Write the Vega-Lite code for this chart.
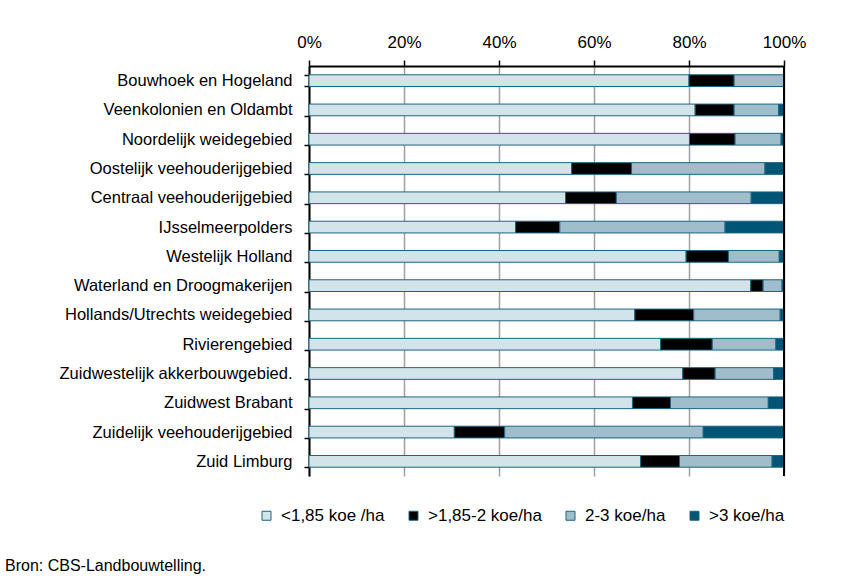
{
  "$schema": "https://vega.github.io/schema/vega-lite/v6.json",
  "autosize": "none",
  "width": 475,
  "height": 410,
  "padding": {"left": 309, "top": 66, "right": 64, "bottom": 103},
  "background": "white",
  "title": {
    "text": "Bron: CBS-Landbouwtelling.",
    "orient": "bottom",
    "anchor": "start",
    "frame": "group",
    "dx": -304,
    "offset": 34,
    "fontSize": 16,
    "font": "Liberation Sans",
    "fontWeight": "normal",
    "color": "black"
  },
  "config": {
    "view": {"stroke": null},
    "font": "Liberation Sans"
  },
  "layer": [
    {
      "data": {
        "values": [
          {"r": "Bouwhoek en Hogeland", "c": "<1,85 koe /ha", "o": 1, "v": 80.0},
          {"r": "Bouwhoek en Hogeland", "c": ">1,85-2 koe/ha", "o": 2, "v": 9.5},
          {"r": "Bouwhoek en Hogeland", "c": "2-3 koe/ha", "o": 3, "v": 10.5},
          {"r": "Veenkolonien en Oldambt", "c": "<1,85 koe /ha", "o": 1, "v": 81.3},
          {"r": "Veenkolonien en Oldambt", "c": ">1,85-2 koe/ha", "o": 2, "v": 8.2},
          {"r": "Veenkolonien en Oldambt", "c": "2-3 koe/ha", "o": 3, "v": 9.4},
          {"r": "Veenkolonien en Oldambt", "c": ">3 koe/ha", "o": 4, "v": 1.1},
          {"r": "Noordelijk weidegebied", "c": "<1,85 koe /ha", "o": 1, "v": 80.1},
          {"r": "Noordelijk weidegebied", "c": ">1,85-2 koe/ha", "o": 2, "v": 9.6},
          {"r": "Noordelijk weidegebied", "c": "2-3 koe/ha", "o": 3, "v": 9.7},
          {"r": "Noordelijk weidegebied", "c": ">3 koe/ha", "o": 4, "v": 0.6},
          {"r": "Oostelijk veehouderijgebied", "c": "<1,85 koe /ha", "o": 1, "v": 55.3},
          {"r": "Oostelijk veehouderijgebied", "c": ">1,85-2 koe/ha", "o": 2, "v": 12.6},
          {"r": "Oostelijk veehouderijgebied", "c": "2-3 koe/ha", "o": 3, "v": 28.1},
          {"r": "Oostelijk veehouderijgebied", "c": ">3 koe/ha", "o": 4, "v": 4.0},
          {"r": "Centraal veehouderijgebied", "c": "<1,85 koe /ha", "o": 1, "v": 54.0},
          {"r": "Centraal veehouderijgebied", "c": ">1,85-2 koe/ha", "o": 2, "v": 10.7},
          {"r": "Centraal veehouderijgebied", "c": "2-3 koe/ha", "o": 3, "v": 28.4},
          {"r": "Centraal veehouderijgebied", "c": ">3 koe/ha", "o": 4, "v": 6.9},
          {"r": "IJsselmeerpolders", "c": "<1,85 koe /ha", "o": 1, "v": 43.5},
          {"r": "IJsselmeerpolders", "c": ">1,85-2 koe/ha", "o": 2, "v": 9.3},
          {"r": "IJsselmeerpolders", "c": "2-3 koe/ha", "o": 3, "v": 34.8},
          {"r": "IJsselmeerpolders", "c": ">3 koe/ha", "o": 4, "v": 12.4},
          {"r": "Westelijk Holland", "c": "<1,85 koe /ha", "o": 1, "v": 79.4},
          {"r": "Westelijk Holland", "c": ">1,85-2 koe/ha", "o": 2, "v": 8.9},
          {"r": "Westelijk Holland", "c": "2-3 koe/ha", "o": 3, "v": 10.7},
          {"r": "Westelijk Holland", "c": ">3 koe/ha", "o": 4, "v": 1.0},
          {"r": "Waterland en Droogmakerijen", "c": "<1,85 koe /ha", "o": 1, "v": 93.0},
          {"r": "Waterland en Droogmakerijen", "c": ">1,85-2 koe/ha", "o": 2, "v": 2.6},
          {"r": "Waterland en Droogmakerijen", "c": "2-3 koe/ha", "o": 3, "v": 4.0},
          {"r": "Waterland en Droogmakerijen", "c": ">3 koe/ha", "o": 4, "v": 0.4},
          {"r": "Hollands/Utrechts weidegebied", "c": "<1,85 koe /ha", "o": 1, "v": 68.6},
          {"r": "Hollands/Utrechts weidegebied", "c": ">1,85-2 koe/ha", "o": 2, "v": 12.4},
          {"r": "Hollands/Utrechts weidegebied", "c": "2-3 koe/ha", "o": 3, "v": 18.2},
          {"r": "Hollands/Utrechts weidegebied", "c": ">3 koe/ha", "o": 4, "v": 0.8},
          {"r": "Rivierengebied", "c": "<1,85 koe /ha", "o": 1, "v": 74.0},
          {"r": "Rivierengebied", "c": ">1,85-2 koe/ha", "o": 2, "v": 10.9},
          {"r": "Rivierengebied", "c": "2-3 koe/ha", "o": 3, "v": 13.4},
          {"r": "Rivierengebied", "c": ">3 koe/ha", "o": 4, "v": 1.7},
          {"r": "Zuidwestelijk akkerbouwgebied.", "c": "<1,85 koe /ha", "o": 1, "v": 78.7},
          {"r": "Zuidwestelijk akkerbouwgebied.", "c": ">1,85-2 koe/ha", "o": 2, "v": 6.8},
          {"r": "Zuidwestelijk akkerbouwgebied.", "c": "2-3 koe/ha", "o": 3, "v": 12.3},
          {"r": "Zuidwestelijk akkerbouwgebied.", "c": ">3 koe/ha", "o": 4, "v": 2.2},
          {"r": "Zuidwest Brabant", "c": "<1,85 koe /ha", "o": 1, "v": 68.1},
          {"r": "Zuidwest Brabant", "c": ">1,85-2 koe/ha", "o": 2, "v": 8.0},
          {"r": "Zuidwest Brabant", "c": "2-3 koe/ha", "o": 3, "v": 20.6},
          {"r": "Zuidwest Brabant", "c": ">3 koe/ha", "o": 4, "v": 3.3},
          {"r": "Zuidelijk veehouderijgebied", "c": "<1,85 koe /ha", "o": 1, "v": 30.6},
          {"r": "Zuidelijk veehouderijgebied", "c": ">1,85-2 koe/ha", "o": 2, "v": 10.6},
          {"r": "Zuidelijk veehouderijgebied", "c": "2-3 koe/ha", "o": 3, "v": 41.8},
          {"r": "Zuidelijk veehouderijgebied", "c": ">3 koe/ha", "o": 4, "v": 17.0},
          {"r": "Zuid Limburg", "c": "<1,85 koe /ha", "o": 1, "v": 69.8},
          {"r": "Zuid Limburg", "c": ">1,85-2 koe/ha", "o": 2, "v": 8.2},
          {"r": "Zuid Limburg", "c": "2-3 koe/ha", "o": 3, "v": 19.5},
          {"r": "Zuid Limburg", "c": ">3 koe/ha", "o": 4, "v": 2.5}
        ]
      },
      "mark": {"type": "bar", "stroke": "#1d6480", "strokeWidth": 1},
      "encoding": {
        "y": {
          "field": "r",
          "type": "nominal",
          "sort": null,
          "scale": {"paddingInner": 0.6, "paddingOuter": 0.3},
          "axis": {
            "title": null,
            "domainColor": "black",
            "domainWidth": 2,
            "tickColor": "black",
            "tickSize": 5,
            "tickWidth": 1.5,
            "tickBand": "extent",
            "labelFontSize": 16.5,
            "labelColor": "black",
            "labelPadding": 12,
            "labelLimit": 300
          }
        },
        "x": {
          "field": "v",
          "type": "quantitative",
          "stack": "zero",
          "scale": {"domain": [0, 100], "nice": false},
          "axis": {
            "orient": "top",
            "title": null,
            "values": [0, 20, 40, 60, 80, 100],
            "labelExpr": "datum.value + '%'",
            "grid": true,
            "gridColor": "#a0a0a0",
            "gridWidth": 1.5,
            "domainColor": "black",
            "domainWidth": 2,
            "tickColor": "black",
            "tickSize": 6,
            "tickWidth": 1.5,
            "labelFontSize": 17,
            "labelColor": "black",
            "labelPadding": 9,
            "labelFlush": false
          }
        },
        "color": {
          "field": "c",
          "type": "nominal",
          "scale": {
            "domain": ["<1,85 koe /ha", ">1,85-2 koe/ha", "2-3 koe/ha", ">3 koe/ha"],
            "range": ["#d3e3ea", "#000000", "#9fbdca", "#005475"]
          },
          "legend": {
            "title": null,
            "orient": "none",
            "direction": "horizontal",
            "legendX": -51,
            "legendY": 441,
            "symbolType": "square",
            "symbolSize": 81,
            "symbolStrokeColor": "#1d6480",
            "symbolStrokeWidth": 1,
            "labelFontSize": 17,
            "labelColor": "black",
            "labelOffset": 6,
            "columnPadding": 20,
            "labelLimit": 200
          }
        },
        "order": {"field": "o"}
      }
    },
    {
      "data": {"values": [{}]},
      "mark": {"type": "rule", "color": "black", "strokeWidth": 2},
      "encoding": {"x": {"datum": 100}}
    }
  ]
}
